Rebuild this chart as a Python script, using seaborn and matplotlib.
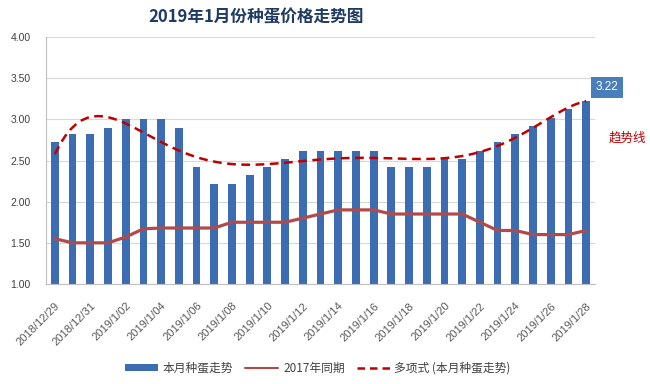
import numpy as np
import pandas as pd
import matplotlib
matplotlib.use("Agg")
import matplotlib.pyplot as plt
from matplotlib.patches import Patch
from matplotlib.lines import Line2D
import seaborn as sns

# ---- data ----
dates = ["2018/12/29", "2018/12/30", "2018/12/31"] + [f"2019/1/{d:02d}" if d < 10 else f"2019/1/{d}" for d in range(1, 29)]
price_2019 = [2.72, 2.82, 2.82, 2.90, 3.00, 3.00, 3.00, 2.90, 2.42, 2.22, 2.22,
              2.32, 2.42, 2.52, 2.62, 2.62, 2.62, 2.62, 2.62, 2.42, 2.42, 2.42,
              2.52, 2.52, 2.62, 2.72, 2.82, 2.92, 3.02, 3.12, 3.22]
price_2017 = [1.55, 1.50, 1.50, 1.50, 1.57, 1.67, 1.68, 1.68, 1.68, 1.68, 1.75,
              1.75, 1.75, 1.75, 1.80, 1.85, 1.90, 1.90, 1.90, 1.85, 1.85, 1.85,
              1.85, 1.85, 1.75, 1.65, 1.65, 1.60, 1.60, 1.60, 1.65]
yticks = [1.00, 1.50, 2.00, 2.50, 3.00, 3.50, 4.00]
title = "2019年1月份种蛋价格走势图"
legend_labels = ["本月种蛋走势", "2017年同期", "多项式 (本月种蛋走势)"]
trend_label = "趋势线"

sns.set_theme(style="white")
plt.rcParams["font.family"] = ["Noto Sans CJK SC", "DejaVu Sans"]

bar_color = "#3C6DB3"
line_color = "#B24A4A"
trend_color = "#C00000"

df = pd.DataFrame({"date": dates, "price": price_2019, "p2017": price_2017,
                   "pos": np.arange(len(dates))})

fig = plt.figure(figsize=(6.5, 3.84), dpi=100)
ax = fig.add_axes([46 / 650, 1 - 284 / 384, (595 - 46) / 650, (284 - 37) / 384])

sns.barplot(data=df, x="pos", y="price", color=bar_color, width=0.44,
            saturation=1, ax=ax, native_scale=True, edgecolor="none")
sns.lineplot(data=df, x="pos", y="p2017", color=line_color, linewidth=2.3, ax=ax)
sns.regplot(data=df, x="pos", y="price", order=6, ci=None, scatter=False, ax=ax,
            truncate=True,
            line_kws=dict(color=trend_color, linestyle=(0, (3.5, 2.2)), linewidth=1.8))

ax.set_xlim(-0.5, len(dates) - 0.5)
ax.set_ylim(1.0, 4.0)
ax.set_yticks(yticks)
ax.set_yticklabels([f"{v:.2f}" for v in yticks], fontsize=7.5, color="#404040",
                   family=["Liberation Sans", "DejaVu Sans"])
ax.set_xticks(np.arange(0, len(dates), 2))
ax.set_xticklabels(dates[::2], rotation=45, ha="right", rotation_mode="anchor",
                   fontsize=8, color="#595959", family=["Liberation Sans", "DejaVu Sans"])
ax.tick_params(axis="y", length=0, pad=11)
ax.tick_params(axis="x", length=0, pad=12)
ax.set_xlabel("")
ax.set_ylabel("")
ax.yaxis.grid(True, color="#D9D9D9", linewidth=0.8)
ax.set_axisbelow(True)
for s in ["top", "right"]:
    ax.spines[s].set_visible(False)
for s in ["left", "bottom"]:
    ax.spines[s].set_color("#BFBFBF")
    ax.spines[s].set_linewidth(0.8)

# value label on last bar
ax.annotate(f"{price_2019[-1]:.2f}", xy=(len(dates) - 1, price_2019[-1]),
            xytext=(15, 10), textcoords="offset points", ha="center", va="center",
            color="white", fontsize=8.5, family=["Liberation Sans", "DejaVu Sans"],
            bbox=dict(boxstyle="square,pad=0.4", fc="#4A7EBB", ec="none"))

fig.text(627 / 650, 1 - 138 / 384, trend_label, color=trend_color, fontsize=9,
         ha="center", va="center")

fig.text(256 / 650, 1 - 17 / 384, title, fontsize=12, fontweight="bold",
         color="#1F3B63", ha="center", va="center")

handles = [Patch(facecolor=bar_color, edgecolor="none"),
           Line2D([], [], color=line_color, linewidth=1.5),
           Line2D([], [], color=trend_color, linewidth=1.8, linestyle=(0, (3, 2)))]
fig.legend(handles, legend_labels, loc="center", bbox_to_anchor=(318 / 650, 1 - 368 / 384),
           ncol=3, frameon=False, fontsize=8.5, handlelength=2.8, handleheight=0.5,
           columnspacing=1.0, handletextpad=0.4, labelcolor="#404040")

fig.savefig("out.png", dpi=100)
